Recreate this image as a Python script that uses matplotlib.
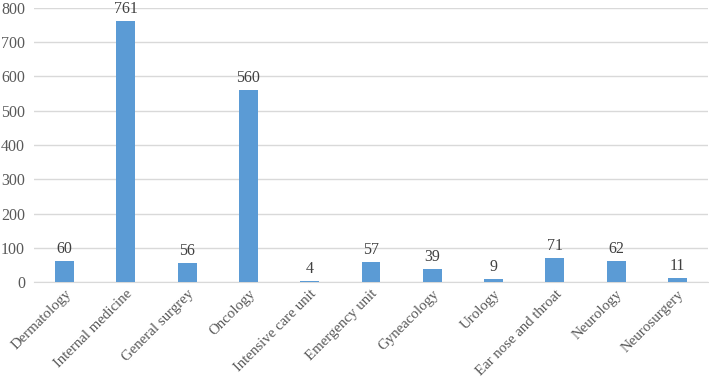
import matplotlib
matplotlib.use("Agg")
import matplotlib.pyplot as plt
import matplotlib.transforms as mtransforms

categories = ["Dermatology", "Internal medicine", "General surgrey", "Oncology",
              "Intensive care unit", "Emergency unit", "Gyneacology", "Urology",
              "Ear nose and throat", "Neurology", "Neurosurgery"]
values = [60, 761, 56, 560, 4, 57, 39, 9, 71, 62, 11]
yticks = [0, 100, 200, 300, 400, 500, 600, 700, 800]

plt.rcParams['font.family'] = ['Liberation Serif', 'DejaVu Serif']

fig = plt.figure(figsize=(7.09, 3.8), dpi=100)
ax = fig.add_axes([34 / 709, 1 - 282 / 380, (708 - 34) / 709, (282 - 8) / 380])
x = list(range(len(categories)))
ax.bar(x, values, width=0.31, color="#5B9BD5", zorder=3)
for xi, v in zip(x, values):
    ax.text(xi, v + 12, str(v), ha="center", va="bottom", fontsize=11.5, color="#404040")
ax.set_ylim(0, 800)
ax.set_xlim(-0.5, len(categories) - 0.5)
ax.set_yticks(yticks)
ax.set_yticklabels([str(t) for t in yticks], fontsize=11.5, color="#595959")
ax.set_xticks(x)
ax.set_xticklabels(categories, rotation=45, ha="right", va="top", rotation_mode="anchor",
                   fontsize=10.7, color="#595959")
offset = mtransforms.ScaledTranslation(4 / 100, 0, fig.dpi_scale_trans)
for lab in ax.get_xticklabels():
    lab.set_transform(lab.get_transform() + offset)
ax.yaxis.grid(True, color="#D9D9D9", linewidth=1, zorder=0)
for s in ["top", "right", "left"]:
    ax.spines[s].set_visible(False)
ax.spines["bottom"].set_color("#D9D9D9")
ax.tick_params(axis="both", length=0)
ax.tick_params(axis="y", pad=6.5)
ax.tick_params(axis="x", pad=4)
fig.savefig("out.png", dpi=100)
